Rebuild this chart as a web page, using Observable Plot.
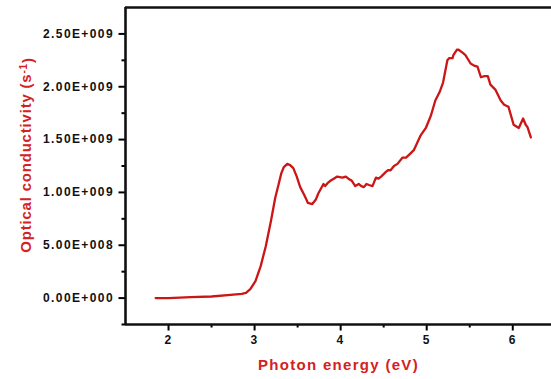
<!DOCTYPE html>
<html>
<head>
<meta charset="utf-8">
<script src="https://cdn.jsdelivr.net/npm/d3@7"></script>
<script src="https://cdn.jsdelivr.net/npm/@observablehq/plot@0.6"></script>
<style>
  html, body { margin: 0; padding: 0; background: #fff; }
  #chart svg { display: block; }
</style>
</head>
<body>
<div id="chart"></div>
<script>
// Photon energy (eV)
const energy = [1.85, 2.0, 2.26, 2.5, 2.72, 2.85, 2.90, 2.95, 3.01, 3.07, 3.13, 3.19, 3.24, 3.28, 3.31, 3.34, 3.38, 3.41, 3.45, 3.49, 3.53, 3.58, 3.62, 3.67, 3.71, 3.74, 3.80, 3.82, 3.85, 3.88, 3.92, 3.96, 4.02, 4.06, 4.09, 4.13, 4.17, 4.21, 4.24, 4.27, 4.30, 4.33, 4.37, 4.41, 4.44, 4.47, 4.52, 4.55, 4.58, 4.62, 4.66, 4.72, 4.76, 4.80, 4.85, 4.89, 4.93, 4.99, 5.05, 5.10, 5.15, 5.19, 5.24, 5.26, 5.30, 5.31, 5.35, 5.37, 5.42, 5.45, 5.51, 5.55, 5.59, 5.63, 5.67, 5.71, 5.74, 5.80, 5.86, 5.90, 5.95, 6.01, 6.07, 6.12, 6.15, 6.17, 6.21];
// Optical conductivity (x 1E+009 s^-1)
const conductivity = [0.00, 0.00, 0.01, 0.015, 0.03, 0.04, 0.05, 0.085, 0.16, 0.30, 0.49, 0.73, 0.95, 1.08, 1.18, 1.24, 1.27, 1.26, 1.23, 1.15, 1.05, 0.97, 0.90, 0.89, 0.93, 0.99, 1.08, 1.06, 1.09, 1.11, 1.13, 1.15, 1.14, 1.15, 1.13, 1.11, 1.06, 1.08, 1.06, 1.05, 1.08, 1.07, 1.06, 1.14, 1.13, 1.15, 1.19, 1.21, 1.21, 1.25, 1.27, 1.33, 1.33, 1.36, 1.40, 1.47, 1.54, 1.61, 1.73, 1.87, 1.95, 2.04, 2.25, 2.27, 2.27, 2.30, 2.35, 2.35, 2.32, 2.30, 2.22, 2.20, 2.19, 2.09, 2.10, 2.10, 2.02, 1.97, 1.87, 1.83, 1.81, 1.64, 1.61, 1.70, 1.64, 1.62, 1.52];

const yTicks = [0, 0.5, 1.0, 1.5, 2.0, 2.5];
const yTickLabels = ["0.00E+000", "5.00E+008", "1.00E+009", "1.50E+009", "2.00E+009", "2.50E+009"];
const yMinorTicks = [-0.25, 0.25, 0.75, 1.25, 1.75, 2.25];
const xTicks = [2, 3, 4, 5, 6];
const xTickLabels = ["2", "3", "4", "5", "6"];
const xMinorTicks = [2.5, 3.5, 4.5, 5.5];

const data = energy.map((e, i) => ({x: e, y: conductivity[i]}));
const xDomain = [1.5, 6.45];
const yDomain = [-0.25, 2.75];
const red = "#d42121";

const chart = Plot.plot({
  width: 551,
  height: 379,
  marginLeft: 125,
  marginRight: 0,
  marginTop: 7,
  marginBottom: 55,
  style: {fontFamily: "Arial, 'Liberation Sans', sans-serif", background: "#fff"},
  x: {domain: xDomain},
  y: {domain: yDomain},
  marks: [
    Plot.axisY({ticks: yMinorTicks, tickSize: 3.5, tickFormat: () => "", label: null, strokeWidth: 2}),
    Plot.axisY({ticks: yTicks, tickSize: 6.5, tickPadding: 5, strokeWidth: 2,
      tickFormat: (d) => yTickLabels[yTicks.indexOf(d)],
      fontSize: 12, fontWeight: "bold", fill: "#111", label: null}),
    Plot.axisX({ticks: xMinorTicks, tickSize: 3.5, tickFormat: () => "", label: null, strokeWidth: 2}),
    Plot.axisX({ticks: xTicks, tickSize: 6.5, tickPadding: 4, strokeWidth: 2,
      tickFormat: (d) => xTickLabels[xTicks.indexOf(d)],
      fontSize: 12, fontWeight: "bold", fill: "#111",
      label: "Photon energy (eV)", labelAnchor: "center", labelOffset: 45, labelArrow: "none"}),
    Plot.ruleX([xDomain[0]], {strokeWidth: 2.6, stroke: "#111"}),
    Plot.ruleY(yDomain, {strokeWidth: 2.6, stroke: "#111"}),
    Plot.line(data, {x: "x", y: "y", stroke: "#cc1515", strokeWidth: 2.3, curve: "linear"})
  ]
});

const svg = d3.select(chart);
svg.selectAll("[aria-label='x-axis label'] text, [aria-label='x-axis label']")
  .attr("fill", red).style("font-size", "15px").style("font-weight", "bold")
  .style("letter-spacing", "1.3px");
svg.selectAll("[aria-label^='x-axis tick label'] text, [aria-label^='y-axis tick label'] text")
  .style("letter-spacing", "1.4px");

// y axis title with superscript
const yt = svg.append("text")
  .attr("transform", "translate(31,155) rotate(-90)")
  .attr("text-anchor", "middle")
  .attr("fill", red)
  .style("font-family", "Arial, 'Liberation Sans', sans-serif")
  .style("font-size", "15px")
  .style("font-weight", "bold")
  .style("letter-spacing", "0.8px");
yt.append("tspan").text("Optical conductivity (s");
yt.append("tspan").attr("dy", "-0.45em").style("font-size", "10px").text("-1");
yt.append("tspan").attr("dy", "0.45em").text(")");

document.getElementById("chart").appendChild(chart);
</script>
</body>
</html>
